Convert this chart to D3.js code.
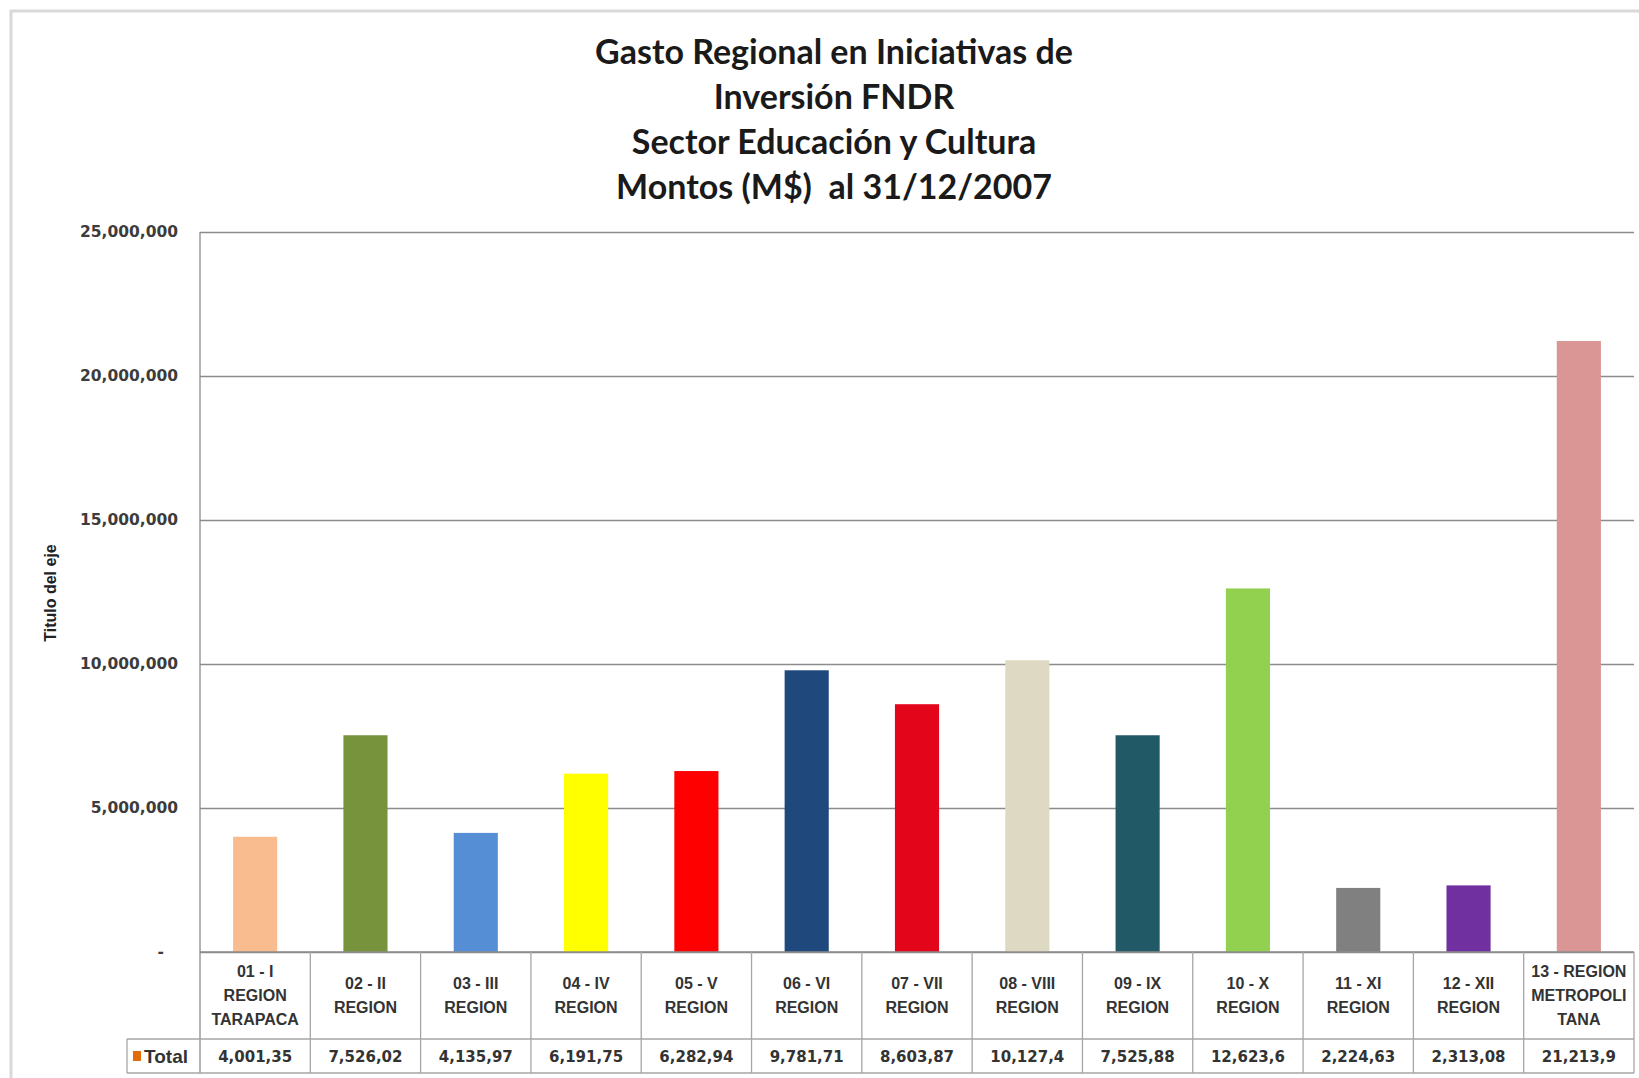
<!DOCTYPE html>
<html>
<head>
<meta charset="utf-8">
<script src="https://cdn.jsdelivr.net/npm/d3@7"></script>
<style>
  body { margin: 0; background: #fff; }
  svg { display: block; }
</style>
</head>
<body>
<div id="svg"></div>
<script>
// data
var regions = ["01 - I|REGION|TARAPACA", "02 - II|REGION", "03 - III|REGION", "04 - IV|REGION",
  "05 - V|REGION", "06 - VI|REGION", "07 - VII|REGION", "08 - VIII|REGION", "09 - IX|REGION",
  "10 - X|REGION", "11 - XI|REGION", "12 - XII|REGION", "13 - REGION|METROPOLI|TANA"];
var totals = [4001350, 7526020, 4135970, 6191750, 6282940, 9781710, 8603870,
  10127400, 7525880, 12623600, 2224630, 2313080, 21213900];
var barColors = ["#F9BC8E", "#77933C", "#558ED5", "#FFFF00", "#FF0000", "#1F497D", "#E3061B",
  "#DDD9C3", "#215967", "#92D050", "#808080", "#7030A0", "#D99694"];
var yTicks = [0, 5000000, 10000000, 15000000, 20000000, 25000000];
var titleLines = ["Gasto Regional en Iniciativas de", "Inversión FNDR",
  "Sector Educación y Cultura", "Montos (M$)  al 31/12/2007"];

var width = 1639, height = 1078;
var plotLeft = 200, plotRight = 1634, plotTop = 232, plotBottom = 952;
var tableMid = 1039, tableBottom = 1073, totalLeft = 127;

var data = regions.map(function (r, i) {
  return { name: r, lines: r.split("|"), value: totals[i], color: barColors[i] };
});

var svg = d3.select("#svg").append("svg")
  .attr("width", width)
  .attr("height", height);

// chart frame
svg.append("rect")
  .attr("x", 11).attr("y", 11)
  .attr("width", width + 20).attr("height", height + 20)
  .attr("fill", "none")
  .attr("stroke", "#d9d9d9")
  .attr("stroke-width", 3);

var xScale = d3.scaleBand()
  .domain(data.map(d => d.name))
  .range([plotLeft, plotRight])
  .padding(0);

var yScale = d3.scaleLinear()
  .domain([0, 25000000])
  .range([plotBottom, plotTop]);

var yAxis = d3.axisLeft(yScale)
  .tickValues(yTicks)
  .tickSize(-(plotRight - plotLeft))
  .tickPadding(22)
  .tickFormat(d => d === 0 ? "-" : d3.format(",")(d));

var gy = svg.append("g")
  .attr("transform", "translate(" + plotLeft + ",0)")
  .call(yAxis);

gy.select(".domain").remove();
gy.selectAll(".tick line")
  .attr("stroke", "#8c8c8c")
  .attr("stroke-width", 1.3);
gy.selectAll(".tick text")
  .attr("fill", "#3c3c3c")
  .style("font-family", "'DejaVu Sans', sans-serif")
  .style("font-weight", "bold")
  .style("font-size", "15.5px")
  .attr("dx", d => d === 0 ? -14 : 0);

// y axis line
svg.append("line")
  .attr("x1", plotLeft).attr("x2", plotLeft)
  .attr("y1", plotTop).attr("y2", tableBottom)
  .attr("stroke", "#8c8c8c")
  .attr("stroke-width", 1.3);

// bars
var bw = xScale.bandwidth() * 0.4;
svg.selectAll(".bar")
  .data(data)
  .enter().append("rect")
  .attr("class", "bar")
  .attr("x", d => xScale(d.name) + (xScale.bandwidth() - bw) / 2)
  .attr("y", d => yScale(d.value))
  .attr("width", bw)
  .attr("height", d => yScale(0) - yScale(d.value))
  .attr("fill", d => d.color);

// data table
var table = svg.append("g").attr("stroke", "#a6a6a6").attr("stroke-width", 1.3);
table.append("line")
  .attr("x1", plotLeft).attr("x2", plotRight)
  .attr("y1", plotBottom).attr("y2", plotBottom)
  .attr("stroke", "#8c8c8c");
table.append("line")
  .attr("x1", totalLeft).attr("x2", plotRight)
  .attr("y1", tableMid).attr("y2", tableMid);
table.append("line")
  .attr("x1", totalLeft).attr("x2", plotRight)
  .attr("y1", tableBottom).attr("y2", tableBottom);
table.append("line")
  .attr("x1", totalLeft).attr("x2", totalLeft)
  .attr("y1", tableMid).attr("y2", tableBottom);
table.selectAll(".col")
  .data(data)
  .enter().append("line")
  .attr("class", "col")
  .attr("x1", d => xScale(d.name) + xScale.bandwidth())
  .attr("x2", d => xScale(d.name) + xScale.bandwidth())
  .attr("y1", plotBottom)
  .attr("y2", tableBottom);

var labelFont = "'Liberation Sans', Arial, sans-serif";

var cat = svg.selectAll(".cat")
  .data(data)
  .enter().append("text")
  .attr("class", "cat")
  .attr("text-anchor", "middle")
  .attr("fill", "#333")
  .style("font-family", labelFont)
  .style("font-weight", "bold")
  .style("font-size", "16px");

cat.each(function (d) {
  var t = d3.select(this);
  var n = d.lines.length;
  var y0 = n === 3 ? 977 : 989;
  d.lines.forEach(function (line, i) {
    t.append("tspan")
      .attr("x", xScale(d.name) + xScale.bandwidth() / 2)
      .attr("y", y0 + i * 24)
      .text(line);
  });
});

// Total row, values cut like in the spreadsheet cell
svg.selectAll(".val")
  .data(data)
  .enter().append("text")
  .attr("class", "val")
  .attr("x", d => xScale(d.name) + xScale.bandwidth() / 2)
  .attr("y", 1062)
  .attr("text-anchor", "middle")
  .attr("fill", "#333")
  .style("font-family", "'DejaVu Sans', sans-serif")
  .style("font-weight", "bold")
  .style("font-size", "15px")
  .text(d => d3.format(",")(d.value).slice(0, 8));

svg.append("rect")
  .attr("x", 133).attr("y", 1051)
  .attr("width", 8).attr("height", 10)
  .attr("fill", "#E46C0A");

svg.append("text")
  .attr("x", 144)
  .attr("y", 1063)
  .attr("fill", "#333")
  .style("font-family", labelFont)
  .style("font-weight", "bold")
  .style("font-size", "19px")
  .text("Total");

// axis title
svg.append("text")
  .attr("transform", "translate(56,593) rotate(-90)")
  .attr("text-anchor", "middle")
  .attr("fill", "#222")
  .style("font-family", labelFont)
  .style("font-weight", "bold")
  .style("font-size", "16px")
  .text("Titulo del eje");

// title
svg.append("g").selectAll("text")
  .data(titleLines)
  .enter().append("text")
  .attr("x", 834)
  .attr("y", (d, i) => 64 + i * 45)
  .attr("text-anchor", "middle")
  .attr("fill", "#1a1a1a")
  .style("font-family", "Lato, sans-serif")
  .style("font-weight", "bold")
  .style("font-size", "34px")
  .style("white-space", "pre")
  .text(d => d);
</script>
</body>
</html>
